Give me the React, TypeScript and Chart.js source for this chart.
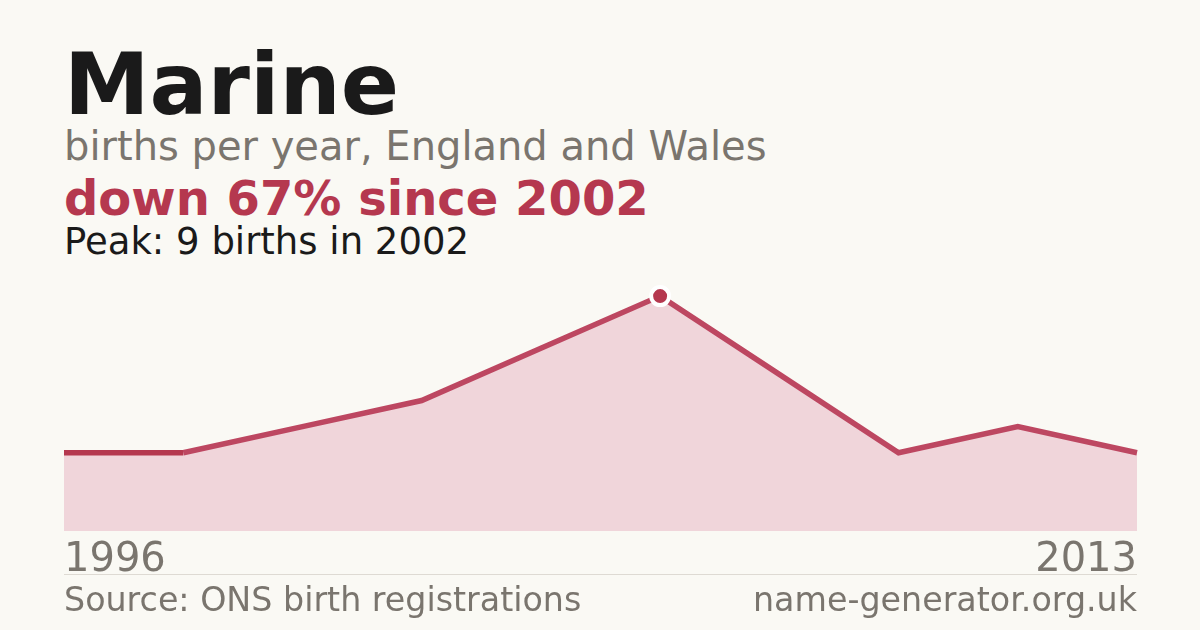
import { useEffect, useRef } from 'react'
import { Chart, registerables } from 'chart.js'

Chart.register(...registerables)

const years = ['1996', '1997', '1998', '2000', '2001', '2002', '2005', '2009', '2011', '2013']
const births = [3, 3, 4, 5, 7, 9, 6, 3, 4, 3]
const peakIndex = 5

const FONT = '"DejaVu Sans", sans-serif'
const RED = '#b5384f'
const RED_SOFT = '#bd4761'
const GREY = '#7a756e'

export default function App() {
  const canvasRef = useRef<HTMLCanvasElement>(null)

  useEffect(() => {
    if (!canvasRef.current) return
    document.body.style.margin = '0'
    const chart = new Chart(canvasRef.current, {
      type: 'line',
      data: {
        labels: years,
        datasets: [
          {
            data: births.map((v, i) => (i === peakIndex ? v : null)),
            pointRadius: 9,
            pointBorderWidth: 4,
            pointBackgroundColor: RED,
            pointBorderColor: '#ffffff',
            showLine: false,
            order: 0,
          },
          {
            data: births,
            borderColor: RED,
            borderWidth: 5.5,
            fill: false,
            tension: 0,
            pointRadius: 0,
            order: 1,
            segment: {
              // sloped runs render slightly lighter in the reference
              borderColor: ctx => (ctx.p0.parsed.y === ctx.p1.parsed.y ? RED : RED_SOFT),
            },
          },
          {
            data: births,
            borderWidth: 0,
            backgroundColor: '#f0d5da',
            fill: 'origin',
            tension: 0,
            pointRadius: 0,
            order: 2,
          },
        ],
      },
      options: {
        responsive: false,
        animation: false,
        layout: { padding: 0, autoPadding: false },
        plugins: { legend: { display: false }, tooltip: { enabled: false } },
        scales: {
          y: { display: false, min: 0, max: 10 },
          x: {
            grid: { display: false, drawTicks: false },
            border: { display: false },
            ticks: {
              autoSkip: false,
              maxRotation: 0,
              align: 'inner',
              padding: 6,
              color: GREY,
              font: { family: FONT, size: 40 },
              callback: (_v, i) => (i === 0 || i === years.length - 1 ? years[i] : ''),
            },
          },
        },
      },
    })
    return () => chart.destroy()
  }, [])

  const text = (top: number, size: number, color: string, weight = 400): React.CSSProperties => ({
    position: 'absolute',
    left: 64,
    top,
    fontSize: size,
    lineHeight: 1,
    color,
    fontWeight: weight,
    whiteSpace: 'nowrap',
  })

  return (
    <div
      style={{
        position: 'fixed',
        left: 0,
        top: 0,
        width: 1200,
        height: 630,
        background: '#faf9f4',
        fontFamily: FONT,
        overflow: 'hidden',
      }}
    >
      <div style={text(41, 86, '#1a1a1a', 700)}>Marine</div>
      <div style={text(126, 40, GREY)}>births per year, England and Wales</div>
      <div style={text(174, 48, RED, 700)}>down 67% since 2002</div>
      <div style={text(223, 37, '#1a1a1a')}>Peak: 9 births in 2002</div>

      <div style={{ position: 'absolute', left: 58, top: 270 }}>
        <canvas ref={canvasRef} width={1085} height={321} style={{ display: 'block' }} />
      </div>

      <div style={{ position: 'absolute', left: 64, top: 574, width: 1073, height: 1, background: '#dedad3' }} />
      <div style={text(583, 33.3, GREY)}>Source: ONS birth registrations</div>
      <div style={{ ...text(583, 33.3, GREY), left: undefined, right: 63 }}>name-generator.org.uk</div>
    </div>
  )
}
